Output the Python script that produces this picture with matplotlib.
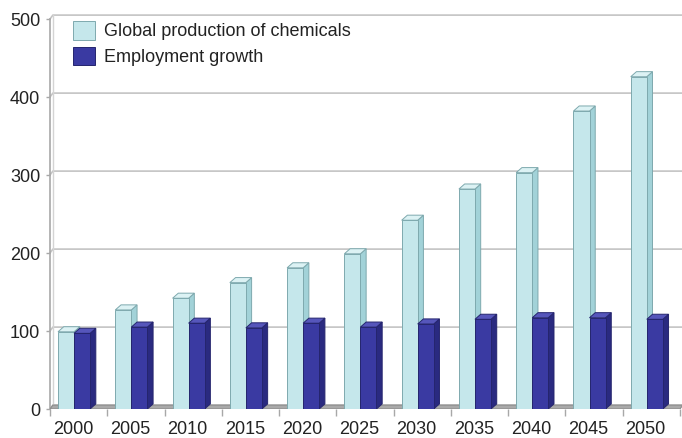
import matplotlib
matplotlib.use("Agg")
import matplotlib.pyplot as plt
from matplotlib.patches import Polygon
import numpy as np

years = ["2000", "2005", "2010", "2015", "2020", "2025", "2030", "2035", "2040", "2045", "2050"]
chemicals = [99, 127, 142, 162, 181, 199, 242, 282, 303, 382, 426]
employment = [97, 105, 110, 104, 110, 105, 109, 115, 117, 117, 115]
yticks = [0, 100, 200, 300, 400, 500]
series_names = ["Global production of chemicals", "Employment growth"]

plt.rcParams['font.family'] = ['Liberation Sans', 'DejaVu Sans']

W, H = 682, 438
fig = plt.figure(figsize=(W / 100, H / 100), dpi=100)
ax = fig.add_axes([50 / W, (H - 409) / H, 632 / W, 397.8 / H])
ax.set_xlim(-0.5, 10.535)
ax.set_ylim(0, 510)
for s in ax.spines.values():
    s.set_visible(False)

# 3D depth offsets
gdx, gdy = 0.05, 5.0     # back wall offset
bdx, bdy = 0.1, 6.5      # bar depth
bw = 0.28

grid_c = "#c4c4c4"
xmax = 10.535
# back wall gridlines
for v in yticks:
    ax.plot([-0.5, -0.5 + gdx, xmax], [v, v + gdy, v + gdy], color=grid_c, lw=1.2, zorder=1,
            clip_on=False, solid_joinstyle='round')
# back wall vertical line
ax.plot([-0.5 + gdx, -0.5 + gdx], [gdy, 500 + gdy], color="#d4d4d4", lw=1.0, zorder=1)
# front axis line
ax.plot([-0.5, -0.5], [0, 500], color="#a8a8a8", lw=1.2, zorder=2, clip_on=False)

# floor
floor = Polygon([(-0.5, 0), (10.5, 0), (10.5 + gdx, gdy), (-0.5 + gdx, gdy)], closed=True,
                facecolor="#a9a9a9", edgecolor="#8c8c8c", lw=0.8, zorder=2)
ax.add_patch(floor)

x = np.arange(len(years))
styles = [
    dict(front="#c5e7eb", top="#dcf2f4", side="#a2d2d8", edge="#7ea9ae"),
    dict(front="#3a3aa2", top="#5656bb", side="#2a2a80", edge="#25256e"),
]
offsets = [-0.36, -0.08]
for k, (vals, st, off) in enumerate(zip([chemicals, employment], styles, offsets)):
    z = 3 + 2 * k
    lefts = x + off
    for l, v in zip(lefts, vals):
        side = Polygon([(l + bw, 0), (l + bw + bdx, bdy), (l + bw + bdx, v + bdy), (l + bw, v)],
                       closed=True, facecolor=st["side"], edgecolor=st["edge"], lw=0.7, zorder=z)
        top = Polygon([(l, v), (l + bw, v), (l + bw + bdx, v + bdy), (l + bdx, v + bdy)],
                      closed=True, facecolor=st["top"], edgecolor=st["edge"], lw=0.7, zorder=z)
        ax.add_patch(side)
        ax.add_patch(top)
    ax.bar(lefts, vals, width=bw, align='edge', color=st["front"], edgecolor=st["edge"],
           linewidth=0.7, zorder=z + 1, label=series_names[k])

# ticks
ax.set_yticks(yticks)
ax.set_yticklabels([str(v) for v in yticks], fontsize=13, color="#222222")
ax.tick_params(axis='y', length=3, width=1, color="#a8a8a8", pad=4)
ax.set_xticks(np.arange(-0.5, 11, 1.0))
ax.set_xticklabels([])
ax.tick_params(axis='x', which='major', length=5, width=1, color="#a8a8a8", direction='out')
ax.set_xticks(x - 0.1, minor=True)
ax.set_xticklabels(years, minor=True, fontsize=13, color="#222222")
ax.tick_params(axis='x', which='minor', length=0, pad=9)

leg = ax.legend(loc='upper left', bbox_to_anchor=(73 / W, 1 - 21 / H), bbox_transform=fig.transFigure,
                frameon=False, fontsize=13, borderpad=0, borderaxespad=0,
                handlelength=1.2, handleheight=1.2, handletextpad=0.5, labelspacing=0.35)
for t in leg.get_texts():
    t.set_color("#222222")

fig.savefig("out.png", dpi=100)
